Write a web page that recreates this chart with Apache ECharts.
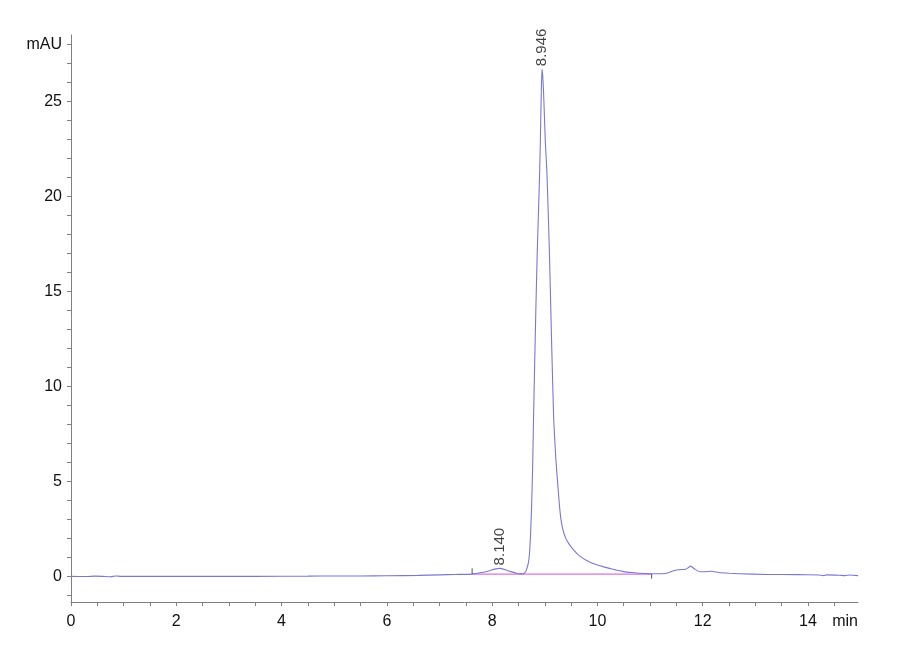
<!DOCTYPE html>
<html>
<head>
<meta charset="utf-8">
<script src="https://cdn.jsdelivr.net/npm/echarts@6/dist/echarts.min.js"></script>
<style>
html,body{margin:0;padding:0;background:#fff;}
#chart{width:900px;height:660px;}
</style>
</head>
<body>
<div id="chart"></div>
<script>
// Retention time (min)
const timeMin = [
  0, 0.3, 0.45, 0.6, 0.75, 0.85, 0.95, 1.5, 2.5, 3.5, 4.5, 5.0, 5.5, 6.0, 6.6, 7.0, 7.3, 7.62,
  7.8, 7.95, 8.05, 8.14, 8.25, 8.35, 8.45, 8.52, 8.58,
  8.63, 8.66, 8.69, 8.71, 8.73, 8.75, 8.77, 8.786, 8.805, 8.83, 8.855, 8.88, 8.90, 8.915, 8.93, 8.946,
  8.96, 8.975, 8.99, 9.01, 9.04, 9.065, 9.09, 9.13, 9.17, 9.21, 9.25, 9.28, 9.31, 9.35, 9.40, 9.45,
  9.50, 9.56, 9.62, 9.70, 9.78, 9.88, 10.0, 10.12, 10.23, 10.35, 10.5, 10.65, 10.8,
  11.03, 11.3, 11.45, 11.6, 11.68, 11.77, 11.85, 11.94, 12.05, 12.16, 12.3,
  12.5, 12.7, 13.2, 13.8, 14.2, 14.3, 14.35, 14.6, 14.7, 14.8, 14.95
];
// Detector signal (mAU)
const signalMAU = [
  0.0, -0.01, 0.01, 0.0, -0.02, 0.02, 0.0, 0.0, 0.0, 0.0, 0.01, 0.02, 0.02, 0.03, 0.05, 0.08, 0.1, 0.12,
  0.2, 0.3, 0.38, 0.42, 0.35, 0.25, 0.18, 0.13, 0.13,
  0.22, 0.41, 0.75, 1.2, 2.2, 3.7, 5.8, 8.23, 10.8, 14.0, 16.85, 19.2, 21.0, 22.8, 25.0, 26.7,
  26.4, 25.6, 24.5, 22.9, 21.3, 19.2, 16.85, 12.3, 8.23, 6.2, 4.71, 3.7, 2.95, 2.4, 2.0, 1.75,
  1.55, 1.35, 1.17, 1.0, 0.86, 0.72, 0.6, 0.5, 0.42, 0.33, 0.25, 0.2, 0.16,
  0.14, 0.15, 0.3, 0.36, 0.37, 0.54, 0.38, 0.24, 0.24, 0.27, 0.2,
  0.16, 0.14, 0.1, 0.09, 0.07, 0.04, 0.08, 0.06, 0.04, 0.07, 0.04
];
// Integrated peaks
const peakTimes = [8.140, 8.946];
const peakHeights = [0.42, 26.7];
// Integration baseline and event markers
const baselineTimes = [7.62, 11.03];
const baselineValues = [0.12, 0.12];
const markerStart = [[7.62, 0.12], [7.62, 0.42]];
const markerEnd = [[11.03, 0.12], [11.03, -0.12]];
// Axis ticks / labels
const xMajorTicks = [0, 2, 4, 6, 8, 10, 12, 14];
const xAxisUnitLabel = 'min';
const yMajorTicks = [0, 5, 10, 15, 20, 25];
const yAxisUnitLabel = 'mAU';

const xMinorTicks = [];
for (let i = 0; i <= 29; i++) xMinorTicks.push(i * 0.5);
const yMinorTicks = [];
for (let i = -1; i <= 28; i++) yMinorTicks.push(i);

const trace = timeMin.map((t, i) => [t, signalMAU[i]]);
const baseline = baselineTimes.map((t, i) => [t, baselineValues[i]]);
const peaks = peakTimes.map((t, i) => [t, peakHeights[i]]);

const FONT = '"Liberation Sans Narrow", "Liberation Sans", Arial, sans-serif';
const axisGray = '#808080';

const chart = echarts.init(document.getElementById('chart'), null, {renderer: 'canvas'});
chart.setOption({
  backgroundColor: '#ffffff',
  animation: false,
  grid: {left: 71, right: 42, top: 35, bottom: 58, containLabel: false},
  xAxis: {
    type: 'value', min: 0, max: 14.95,
    axisLine: {show: true, onZero: false, lineStyle: {color: axisGray, width: 1}},
    axisTick: {show: true, length: 4, customValues: xMinorTicks, lineStyle: {color: axisGray}},
    axisLabel: {
      show: true, customValues: xMajorTicks.concat([14.95]), margin: 12,
      color: '#111', fontSize: 16, fontFamily: FONT,
      formatter: v => (v > 14.5 ? xAxisUnitLabel : String(v)),
      alignMaxLabel: 'right'
    },
    splitLine: {show: false}
  },
  yAxis: {
    type: 'value', min: -1.35, max: 28.5,
    axisLine: {show: true, onZero: false, lineStyle: {color: axisGray, width: 1}},
    axisTick: {show: true, length: 4, customValues: yMinorTicks, lineStyle: {color: axisGray}},
    axisLabel: {
      show: true, customValues: yMajorTicks.concat([28]), margin: 9,
      color: '#111', fontSize: 16, fontFamily: FONT,
      formatter: v => (v === 28 ? yAxisUnitLabel : String(v))
    },
    splitLine: {show: false}
  },
  series: [
    {
      type: 'line', data: baseline, symbol: 'none',
      lineStyle: {color: '#e070e0', width: 1.2}, z: 2
    },
    {
      type: 'line', data: trace, symbol: 'none', smooth: 0.15,
      lineStyle: {color: '#7878d6', width: 1.1}, z: 3
    },
    {
      type: 'line', data: markerStart, symbol: 'none',
      lineStyle: {color: '#555', width: 1}, z: 4
    },
    {
      type: 'line', data: markerEnd, symbol: 'none',
      lineStyle: {color: '#555', width: 1}, z: 4
    },
    {
      type: 'scatter', data: peaks, symbolSize: 0, z: 5,
      label: {
        show: true, position: 'top', distance: 3, rotate: 90,
        align: 'left', verticalAlign: 'middle',
        color: '#111', fontSize: 15, fontFamily: FONT,
        formatter: p => p.value[0].toFixed(3)
      }
    }
  ]
});
</script>
</body>
</html>
